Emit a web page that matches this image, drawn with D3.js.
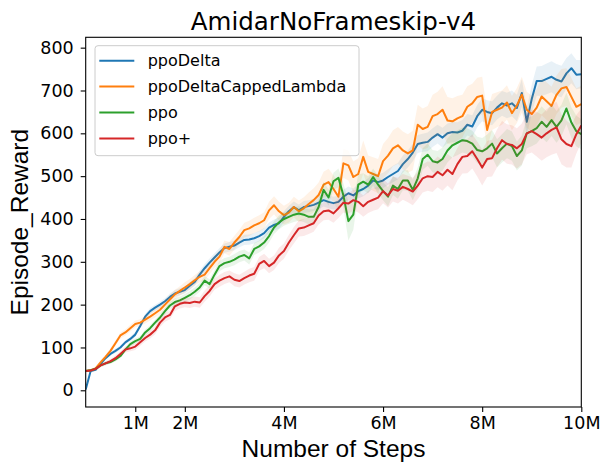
<!DOCTYPE html>
<html>
<head>
<meta charset="utf-8">
<script src="https://cdn.jsdelivr.net/npm/d3@7"></script>
<style>
  body { margin: 0; background: #fff; }
  .tick text { font-family: "DejaVu Sans", sans-serif; font-size: 17.5px; fill: #000; }
  .axisTitle { font-family: "Liberation Sans", Arial, sans-serif; font-size: 24.5px; fill: #000; }
  .chartTitle { font-family: "DejaVu Sans", sans-serif; font-size: 24.5px; fill: #000; }
  .legendText { font-family: "DejaVu Sans", sans-serif; font-size: 16px; fill: #000; }
</style>
</head>
<body>
<div id="chart"></div>
<script>
// sample positions, in millions of steps (every 0.1M)
const steps = d3.range(101).map(i => i / 10)

const seriesNames = ["ppoDelta", "ppoDeltaCappedLambda", "ppo", "ppo+"]
const seriesColors = ["#1f77b4", "#ff7f0e", "#2ca02c", "#d62728"]

const ppoDelta = [2,45,48,62,75,85,92,100,112,120,130,
    150,172,185,193,200,208,218,226,230,234,
    244,253,270,285,298,310,322,332,335,338,
    345,351,352,355,360,367,380,386,390,405,
    418,428,420,428,430,433,438,444,440,437,
    440,452,460,455,465,470,478,490,486,490,
    498,505,512,528,540,555,575,578,580,590,
    598,590,600,603,602,606,620,616,640,655,
    650,647,660,670,665,670,659,694,627,680,
    722,722,727,732,725,721,740,752,737,738]

const ppoDeltaCappedLambda = [45,47,51,65,78,92,110,128,135,145,155,
    158,165,172,180,188,200,212,224,232,240,
    248,257,265,270,285,300,312,335,330,345,
    358,374,378,385,390,397,420,432,418,409,
    415,428,418,425,435,444,456,480,486,470,
    452,530,525,498,505,545,510,505,500,535,
    548,565,572,560,553,560,620,610,615,640,
    645,655,630,628,635,640,662,670,685,688,
    608,650,655,660,672,647,665,690,655,645,
    660,686,675,664,690,705,708,685,662,668]

const ppo = [45,47,50,58,63,66,72,80,95,108,115,
    120,135,145,158,170,185,198,206,210,216,
    222,230,240,256,248,270,290,297,300,305,
    312,316,308,330,336,345,360,380,392,400,
    405,410,413,410,405,405,428,468,450,488,
    496,455,395,410,480,487,480,498,480,465,
    452,478,470,490,490,468,495,540,550,535,
    532,540,560,572,578,584,582,576,561,558,
    565,576,553,565,576,570,547,560,600,605,
    612,627,615,631,615,630,658,625,605,598]

const ppoPlus = [45,46,50,58,63,68,75,85,95,98,102,
    112,122,130,140,158,170,176,196,202,205,
    204,207,205,220,232,248,256,262,266,258,
    255,262,268,272,295,302,290,298,315,325,
    345,362,378,380,385,390,408,418,420,413,
    425,438,436,444,440,430,440,445,450,465,
    455,470,466,475,470,464,478,495,500,498,
    510,502,515,505,528,545,547,558,540,520,
    540,542,565,584,575,573,565,575,600,605,
    598,590,600,608,614,586,575,570,598,618]

// half-width of the shaded band around each line
const ppoDeltaStd = [1,3,3,4,4,4,5,5,5,5,6,
    6,6,7,7,7,7,8,8,8,8,
    9,9,9,10,10,10,10,11,11,11,
    11,12,12,12,12,12,12,13,13,13,
    13,13,14,14,14,14,15,15,15,15,
    15,16,16,16,17,17,17,18,18,18,
    18,19,19,20,20,20,21,21,22,22,
    22,23,23,24,24,25,25,26,26,27,
    27,28,28,29,30,30,31,32,32,33,
    34,35,36,36,37,37,36,35,34,33]

const ppoDeltaCappedLambdaStd = [1,3,4,5,5,6,6,7,7,8,8,
    8,9,9,10,10,10,11,11,11,12,
    12,12,13,13,14,14,15,15,16,16,
    17,17,18,18,19,19,20,21,22,22,
    23,24,25,26,27,28,29,30,31,32,
    33,34,35,36,37,38,38,39,40,40,
    41,42,43,44,45,46,47,48,49,50,
    52,55,55,54,52,50,48,46,45,44,
    43,42,41,40,40,40,41,42,42,43,
    43,44,44,45,45,45,44,44,43,43]

const ppoStd = [1,3,3,4,4,4,5,5,5,6,6,
    6,7,7,7,8,8,8,9,9,9,
    10,10,10,11,11,11,12,12,12,13,
    13,13,14,14,14,15,15,15,16,16,
    16,17,17,17,18,18,18,19,19,20,
    22,28,45,35,24,20,20,20,21,21,
    22,22,23,23,24,24,25,25,26,26,
    27,27,28,28,29,29,30,30,31,31,
    32,32,33,33,34,34,34,35,35,35,
    36,36,36,37,37,37,37,36,36,35]

const ppoPlusStd = [1,3,4,4,5,5,6,6,7,7,8,
    8,8,9,9,10,10,10,11,11,11,
    12,12,12,13,13,13,14,14,14,15,
    15,15,16,16,16,17,17,17,18,18,
    18,19,19,20,20,20,21,21,22,22,
    23,23,24,24,25,25,26,26,27,28,
    28,29,30,30,31,32,32,33,34,35,
    36,36,37,38,38,39,40,40,41,42,
    42,43,44,45,46,46,47,48,49,50,
    52,54,56,58,60,58,55,50,45,40]

const xTicks = [1, 2, 4, 6, 8, 10]
const xTickLabels = ["1M", "2M", "4M", "6M", "8M", "10M"]
const yTicks = [0, 100, 200, 300, 400, 500, 600, 700, 800]

const renderChart = () => {
    const W = 611, H = 474
    const plot = { left: 85.7, right: 581.3, top: 37.3, bottom: 407 }

    const svg = d3.select('#chart').append('svg')
        .attr('width', W)
        .attr('height', H)

    const xScale = d3.scaleLinear().domain([0, 10]).range([plot.left, plot.right])
    const yScale = d3.scaleLinear().domain([-39, 824.2]).range([plot.bottom, plot.top])

    const means = [ppoDelta, ppoDeltaCappedLambda, ppo, ppoPlus]
    const stds = [ppoDeltaStd, ppoDeltaCappedLambdaStd, ppoStd, ppoPlusStd]

    svg.append('clipPath').attr('id', 'clip')
        .append('rect')
        .attr('x', plot.left).attr('y', plot.top)
        .attr('width', plot.right - plot.left).attr('height', plot.bottom - plot.top)

    const plotGroup = svg.append('g').attr('clip-path', 'url(#clip)')

    const band = d3.area()
        .x(d => xScale(d.x))
        .y0(d => yScale(d.m - d.s))
        .y1(d => yScale(d.m + d.s))
    const line = d3.line()
        .x(d => xScale(d.x))
        .y(d => yScale(d.m))

    means.forEach((m, k) => {
        const pts = steps.map((x, i) => ({ x: x, m: m[i], s: stds[k][i] }))
        plotGroup.append('path')
            .datum(pts)
            .attr('d', band)
            .attr('fill', seriesColors[k])
            .attr('fill-opacity', 0.1)
        plotGroup.append('path')
            .datum(pts)
            .attr('d', line)
            .attr('fill', 'none')
            .attr('stroke', seriesColors[k])
            .attr('stroke-width', 2)
            .attr('stroke-linejoin', 'round')
    })

    // axes
    const xAxis = svg.append('g')
        .attr('transform', `translate(0, ${plot.bottom})`)
        .call(d3.axisBottom(xScale)
            .tickValues(xTicks)
            .tickFormat((d, i) => xTickLabels[i])
            .tickSize(5)
            .tickPadding(5))
    xAxis.select('.domain').remove()

    const yAxis = svg.append('g')
        .attr('transform', `translate(${plot.left}, 0)`)
        .call(d3.axisLeft(yScale)
            .tickValues(yTicks)
            .tickSize(5)
            .tickPadding(7))
    yAxis.select('.domain').remove()
    svg.selectAll('.tick line').attr('stroke', '#000').attr('stroke-width', 1.1)

    // frame
    svg.append('rect')
        .attr('x', plot.left).attr('y', plot.top)
        .attr('width', plot.right - plot.left).attr('height', plot.bottom - plot.top)
        .attr('fill', 'none')
        .attr('stroke', '#000')
        .attr('stroke-width', 1.1)

    svg.append('text')
        .attr('class', 'chartTitle')
        .attr('x', (plot.left + plot.right) / 2)
        .attr('y', 30)
        .attr('text-anchor', 'middle')
        .text('AmidarNoFrameskip-v4')

    svg.append('text')
        .attr('class', 'axisTitle')
        .attr('x', (plot.left + plot.right) / 2)
        .attr('y', 457)
        .attr('text-anchor', 'middle')
        .text('Number of Steps')

    svg.append('text')
        .attr('class', 'axisTitle')
        .attr('transform', `translate(28, ${(plot.top + plot.bottom) / 2}) rotate(-90)`)
        .attr('text-anchor', 'middle')
        .text('Episode_Reward')

    // legend
    const legend = svg.append('g')
    legend.append('rect')
        .attr('x', 95).attr('y', 45.7)
        .attr('width', 264).attr('height', 110)
        .attr('rx', 3)
        .attr('fill', '#fff')
        .attr('fill-opacity', 0.8)
        .attr('stroke', '#cccccc')
        .attr('stroke-width', 1)

    seriesNames.forEach((name, k) => {
        const rowY = 60.7 + k * 25.9
        legend.append('line')
            .attr('x1', 99.3).attr('x2', 134.3)
            .attr('y1', rowY).attr('y2', rowY)
            .attr('stroke', seriesColors[k])
            .attr('stroke-width', 2)
        legend.append('text')
            .attr('class', 'legendText')
            .attr('x', 147.7)
            .attr('y', rowY + 5.7)
            .text(name)
    })
}

renderChart()
</script>
</body>
</html>
